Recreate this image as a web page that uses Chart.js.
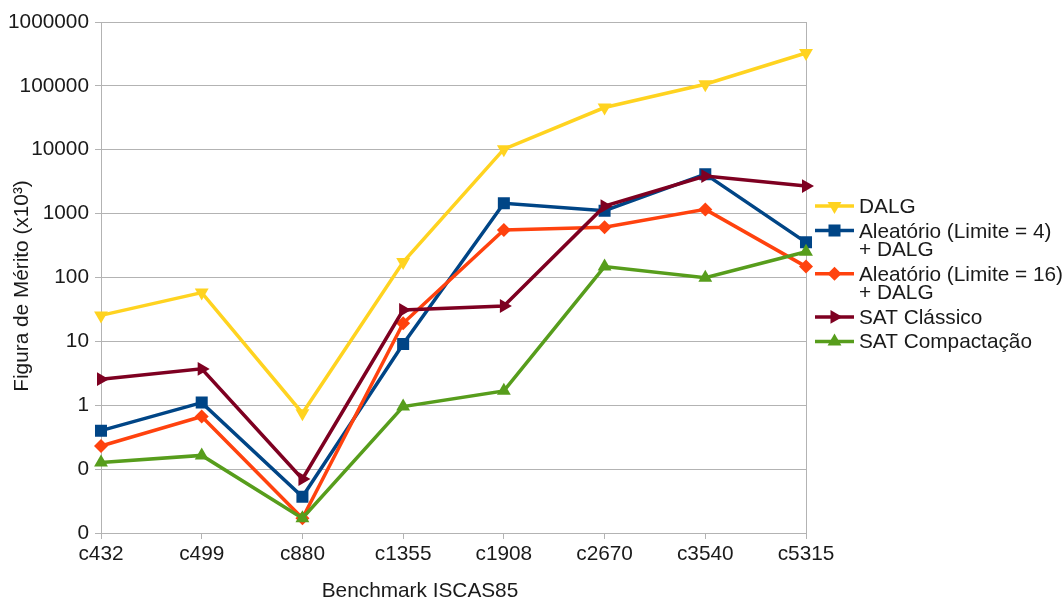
<!DOCTYPE html>
<html>
<head>
<meta charset="utf-8">
<script src="https://cdn.jsdelivr.net/npm/chart.js@4/dist/chart.umd.min.js"></script>
<style>
  html, body { margin: 0; padding: 0; background: #fff; }
  #wrap { width: 1063px; height: 601px; position: relative; }
</style>
</head>
<body>
<div id="wrap"><canvas id="c" width="1063" height="601"></canvas></div>
<script>
// Benchmarks (ISCAS85 circuits)
const benchmarks = ['c432', 'c499', 'c880', 'c1355', 'c1908', 'c2670', 'c3540', 'c5315'];

// Figura de Mérito (x10³) per method
const dalg        = [25.5, 58, 0.75, 175, 10200, 45800, 106000, 327000];
const aleatorio4  = [0.40, 1.10, 0.037, 9.1, 1450, 1110, 4150, 355];
const aleatorio16 = [0.23, 0.665, 0.017, 19.2, 553, 610, 1165, 148];
const satClassico = [2.56, 3.71, 0.07, 31, 35.8, 1310, 3870, 2700];
const satCompact  = [0.127, 0.164, 0.017, 0.955, 1.68, 148, 99, 253];

// Series names (legend lines)
const seriesNames = [
  ['DALG'],
  ['Aleatório (Limite = 4)', '+ DALG'],
  ['Aleatório (Limite = 16)', '+ DALG'],
  ['SAT Clássico'],
  ['SAT Compactação']
];

// Log-axis ticks and their printed labels
const yTickValues = [0.01, 0.1, 1, 10, 100, 1000, 10000, 100000, 1000000];
const yTickLabels = ['0', '0', '1', '10', '100', '1000', '10000', '100000', '1000000'];

const xTitle = 'Benchmark ISCAS85';
const yTitle = 'Figura de Mérito (x10³)';

const FONT = 'Liberation Sans, Arial, sans-serif';
const FSIZE = 20.8;
const TEXT = '#1a1a1a';
const GRID = '#b3b3b3';

const styles = [
  { color: '#ffd320', pointStyle: 'triangle', rotation: 180, radius: 8 },
  { color: '#004586', pointStyle: 'rect', rotation: 0, radius: 8.5 },
  { color: '#ff420e', pointStyle: 'rectRot', rotation: 0, radius: 7 },
  { color: '#7e0021', pointStyle: 'triangle', rotation: 90, radius: 8 },
  { color: '#579d1c', pointStyle: 'triangle', rotation: 0, radius: 8 }
];
const seriesData = [dalg, aleatorio4, aleatorio16, satClassico, satCompact];

const datasets = seriesData.map((d, i) => ({
  label: seriesNames[i].join(' '),
  data: d,
  borderColor: styles[i].color,
  backgroundColor: styles[i].color,
  borderWidth: 3.5,
  pointStyle: styles[i].pointStyle,
  pointRotation: styles[i].rotation,
  pointRadius: styles[i].radius,
  pointHoverRadius: styles[i].radius,
  pointBorderWidth: 0,
  tension: 0,
  order: seriesData.length - i
}));

// Marker drawn like Chart.js point styles (for the legend samples)
function drawMarker(ctx, style, x, y) {
  ctx.save();
  ctx.fillStyle = style.color;
  ctx.beginPath();
  const r = style.radius;
  if (style.pointStyle === 'rect') {
    const s = Math.SQRT1_2 * r;
    ctx.rect(x - s, y - s, 2 * s, 2 * s);
  } else if (style.pointStyle === 'rectRot') {
    ctx.moveTo(x - r, y); ctx.lineTo(x, y - r); ctx.lineTo(x + r, y); ctx.lineTo(x, y + r);
    ctx.closePath();
  } else {
    let rad = style.rotation * Math.PI / 180;
    ctx.moveTo(x + Math.sin(rad) * r, y - Math.cos(rad) * r);
    rad += 2 * Math.PI / 3;
    ctx.lineTo(x + Math.sin(rad) * r, y - Math.cos(rad) * r);
    rad += 2 * Math.PI / 3;
    ctx.lineTo(x + Math.sin(rad) * r, y - Math.cos(rad) * r);
    ctx.closePath();
  }
  ctx.fill();
  ctx.restore();
}

// Side legend with multi-line labels, plus both axis titles
const sideLegend = {
  id: 'sideLegend',
  afterDraw(chart) {
    const ctx = chart.ctx;
    ctx.save();
    ctx.font = FSIZE + 'px ' + FONT;
    ctx.fillStyle = TEXT;
    ctx.textBaseline = 'alphabetic';
    ctx.textAlign = 'left';
    const textX = 859, lineX0 = 815, lineX1 = 854;
    const lineGap = 18.7, itemGap = 24.5;
    let baseline = 213;
    seriesNames.forEach((lines, i) => {
      const cy = baseline - 7;
      ctx.strokeStyle = styles[i].color;
      ctx.lineWidth = 3.5;
      ctx.beginPath();
      ctx.moveTo(lineX0, cy);
      ctx.lineTo(lineX1, cy);
      ctx.stroke();
      drawMarker(ctx, styles[i], (lineX0 + lineX1) / 2, cy);
      lines.forEach((t, k) => {
        ctx.fillText(t, textX, baseline + k * lineGap);
      });
      baseline += (lines.length - 1) * lineGap + itemGap;
    });
    // axis titles
    ctx.textAlign = 'center';
    ctx.textBaseline = 'middle';
    ctx.fillText(xTitle, 420, 591);
    ctx.translate(22, 286);
    ctx.rotate(-Math.PI / 2);
    ctx.fillText(yTitle, 0, 0);
    ctx.restore();
  }
};

new Chart(document.getElementById('c'), {
  type: 'line',
  data: { labels: benchmarks, datasets },
  options: {
    responsive: false,
    animation: false,
    events: [],
    layout: { padding: { top: 22, right: 257, bottom: 0, left: 0 } },
    plugins: {
      legend: { display: false },
      tooltip: { enabled: false },
      title: { display: false }
    },
    scales: {
      x: {
        type: 'category',
        offset: false,
        afterFit(scale) { scale.height = 68; },
        border: { display: true, color: GRID, width: 1 },
        grid: {
          display: true,
          drawOnChartArea: true,
          color: (c) => (c.index === benchmarks.length - 1 ? GRID : 'rgba(0,0,0,0)'),
          tickColor: GRID,
          tickLength: 6,
          lineWidth: 1
        },
        ticks: {
          color: TEXT,
          font: { family: FONT, size: FSIZE },
          padding: 3,
          maxRotation: 0,
          autoSkip: false
        },
        title: { display: false }
      },
      y: {
        type: 'logarithmic',
        min: 0.01,
        max: 1000000,
        afterFit(scale) { scale.width = 101; },
        afterBuildTicks(scale) {
          scale.ticks = yTickValues.map(v => ({ value: v, major: true }));
        },
        border: { display: true, color: GRID, width: 1 },
        grid: {
          color: GRID,
          tickColor: GRID,
          tickLength: 6,
          lineWidth: 1
        },
        ticks: {
          color: TEXT,
          font: { family: FONT, size: FSIZE },
          padding: 6,
          autoSkip: false,
          callback: (value, index) => yTickLabels[index]
        },
        title: { display: false }
      }
    }
  },
  plugins: [sideLegend]
});
</script>
</body>
</html>
